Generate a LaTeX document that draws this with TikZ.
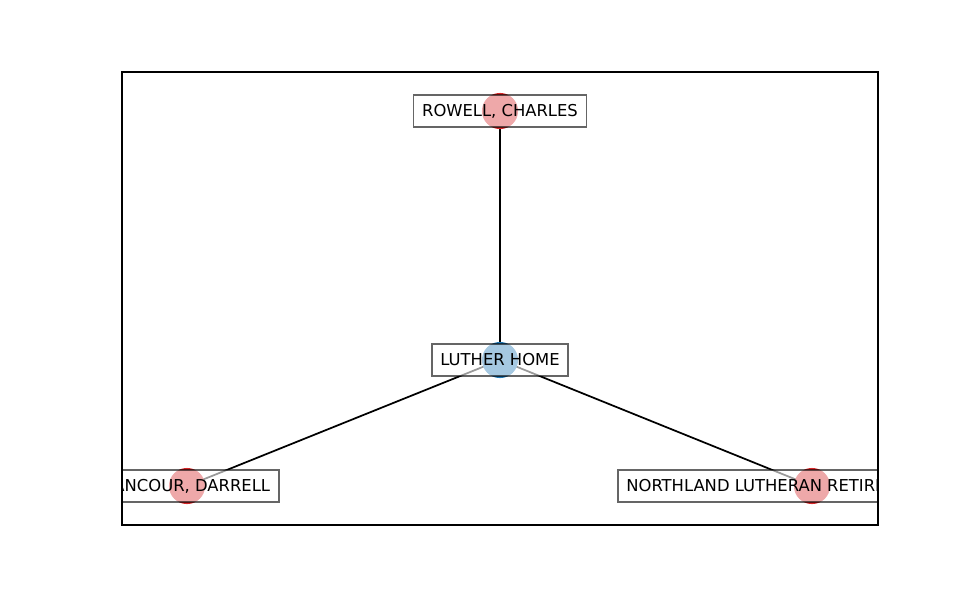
\documentclass[tikz,border=0pt]{standalone}
\usepackage{fontspec}
\setmainfont{DejaVu Sans}
\definecolor{mplred}{RGB}{214,39,40}
\definecolor{mplblue}{RGB}{31,119,180}
\begin{document}
\begin{tikzpicture}[x=0.72pt,y=-0.72pt,
  dot/.style={circle,inner sep=0pt,minimum size=26pt},
  lbl/.style={draw=black,fill=white,fill opacity=0.6,draw opacity=0.6,text opacity=1,line width=1.4pt,
    font=\fontsize{11.8pt}{13pt}\selectfont,inner xsep=6.2pt,minimum height=22.8pt,text height=8.7pt,text depth=1.5pt},
  edge/.style={line width=1.25pt,black}]
\useasboundingbox (0,0) rectangle (975,600);
\coordinate (r) at (500,111);
\coordinate (l) at (500,360);
\coordinate (d) at (187,486);
\coordinate (n) at (812,486);
\draw[edge] (r) -- (l);
\draw[edge] (l) -- (d);
\draw[edge] (l) -- (n);
\node[dot,fill=mplred] (rc) at (r) {};
\node[dot,fill=mplblue] (lc) at (l) {};
\node[dot,fill=mplred] (dc) at (d) {};
\node[dot,fill=mplred] (nc) at (n) {};
\begin{scope}
\clip (122,72) rectangle (878,525);
\node[lbl] (rl) at (r) {ROWELL, CHARLES};
\node[lbl] (ll) at (l) {LUTHER HOME};
\node[lbl] (dl) at (d) {LANCOUR, DARRELL};
\node[lbl] (nl) at (n) {NORTHLAND LUTHERAN RETIREMENT HOMES};
\end{scope}
\draw[line width=0.8pt] (122,72) rectangle (878,525);
\end{tikzpicture}
\end{document}
